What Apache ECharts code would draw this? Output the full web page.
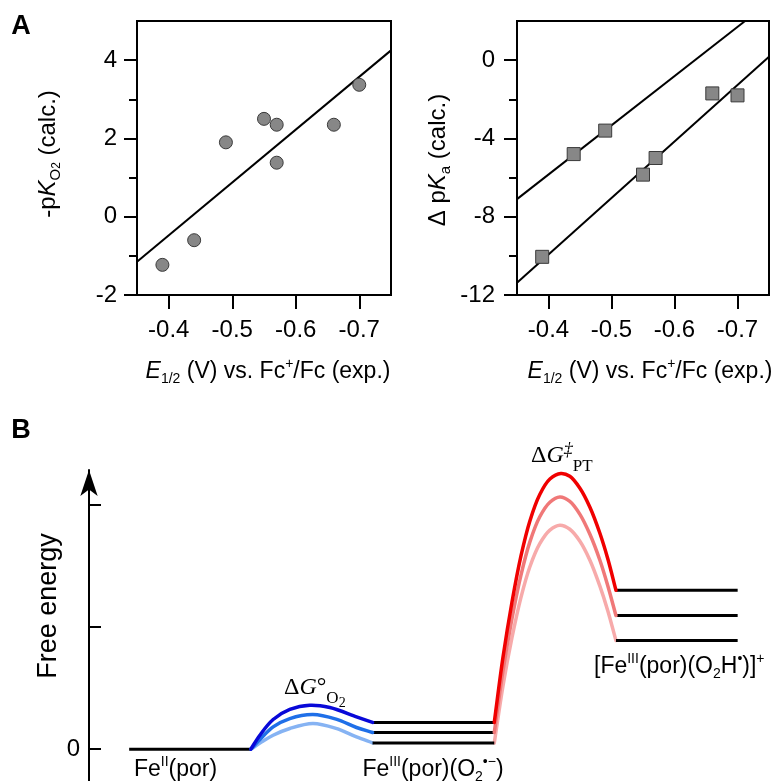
<!DOCTYPE html>
<html>
<head>
<meta charset="utf-8">
<script src="https://cdn.jsdelivr.net/npm/echarts@6/dist/echarts.min.js"></script>
<style>
  html, body { margin: 0; padding: 0; background: #fff; }
  #chart { width: 782px; height: 781px; }
</style>
</head>
<body>
<div id="chart"></div>
<script>
// ---- Panel A, left: O2 binding constant vs. Fe(III/II) potential ----
const e12Binding = [-0.39, -0.44, -0.49, -0.55, -0.57, -0.57, -0.66, -0.70];
const negPKO2    = [-1.23, -0.60, 1.90, 2.50, 2.35, 1.38, 2.35, 3.37];
const bindingFit = [[-0.35, -1.15], [-0.75, 4.25]];

// ---- Panel A, right: pKa difference vs. Fe(III/II) potential ----
const e12Acid      = [-0.39, -0.44, -0.49, -0.55, -0.57, -0.66, -0.70];
const deltaPKa     = [-10.05, -4.80, -3.60, -5.85, -5.00, -1.70, -1.80];
const acidFitUpper = [[-0.35, -7.10], [-0.712, 2.0]];
const acidFitLower = [[-0.35, -11.37], [-0.75, 0.17]];

// tick values
const e12Ticks  = [-0.4, -0.5, -0.6, -0.7];
const pKO2Ticks = [-2, 0, 2, 4];
const pKO2Minor = [-1, 1, 3];
const pKaTicks  = [-12, -8, -4, 0];
const pKaMinor  = [-10, -6, -2];

// ---- Panel B: free-energy profile (x = reaction stage, y = free energy) ----
const energyTicks  = [0, 1, 2];
const energyLabels = [0];
const levelFe2      = [[0, 0], [1, 0]];
const superoxoLevels = [0.218, 0.136, 0.051];      // stage 2 -> 3
const hydroperoxylLevels = [1.298, 1.091, 0.887];  // stage 4 -> 5

// O2 binding humps (stage 1 -> 2), darkest first
const bindingCurves = [
  [[1.0, 0], [1.074, 0.114], [1.183, 0.242], [1.320, 0.324], [1.484, 0.359], [1.649, 0.340], [1.868, 0.264], [2.0, 0.218]],
  [[1.0, 0], [1.080, 0.085], [1.183, 0.182], [1.320, 0.250], [1.510, 0.283], [1.700, 0.245], [1.868, 0.177], [2.0, 0.136]],
  [[1.0, 0], [1.090, 0.060], [1.183, 0.114], [1.320, 0.169], [1.510, 0.210], [1.700, 0.170], [1.868, 0.100], [2.0, 0.051]]
];
// proton-transfer barriers (stage 3 -> 4), darkest first
const ptCurves = [
  [[3.0, 0.218], [3.071, 0.746], [3.145, 1.198], [3.219, 1.576], [3.292, 1.862], [3.374, 2.080], [3.457, 2.206],
   [3.547, 2.252], [3.621, 2.229], [3.704, 2.131], [3.786, 1.976], [3.868, 1.763], [3.934, 1.551], [4.0, 1.298]],
  [[3.0, 0.136], [3.071, 0.636], [3.145, 1.064], [3.219, 1.420], [3.292, 1.691], [3.374, 1.898], [3.457, 2.017],
   [3.539, 2.060], [3.621, 2.024], [3.704, 1.918], [3.786, 1.755], [3.868, 1.543], [3.934, 1.331], [4.0, 1.091]],
  [[3.0, 0.051], [3.071, 0.513], [3.145, 0.908], [3.219, 1.238], [3.292, 1.488], [3.374, 1.678], [3.457, 1.789],
   [3.539, 1.829], [3.621, 1.796], [3.704, 1.698], [3.786, 1.543], [3.868, 1.331], [3.934, 1.127], [4.0, 0.887]]
];
const bindingColors = ['#0808d8', '#1f6fe8', '#86b3f3'];
const ptColors      = ['#f00000', '#f07878', '#f7aaaa'];

const SANS = '"Liberation Sans", Arial, Helvetica, sans-serif';
const SERIF = '"Liberation Serif", "Times New Roman", serif';
const BLACK = '#000';
const TICK_FONT = 24;

const chart = echarts.init(document.getElementById('chart'), null, { renderer: 'canvas' });

function eAxis(gridIndex) {
  return {
    type: 'value', gridIndex, min: -0.75, max: -0.35, inverse: true, position: 'bottom',
    axisLine: { show: false, onZero: false }, splitLine: { show: false },
    axisTick: { show: true, length: 14, customValues: e12Ticks, lineStyle: { color: BLACK, width: 2 } },
    axisLabel: { customValues: e12Ticks, fontSize: TICK_FONT, color: BLACK, margin: 23, fontFamily: SANS,
                 formatter: v => v.toFixed(1) }
  };
}
function majorY(gridIndex, min, max, ticks, margin) {
  return {
    type: 'value', gridIndex, min, max, position: 'left',
    axisLine: { show: false, onZero: false }, splitLine: { show: false },
    axisTick: { show: true, length: 13, customValues: ticks, lineStyle: { color: BLACK, width: 2 } },
    axisLabel: { customValues: ticks, fontSize: TICK_FONT, color: BLACK, margin, fontFamily: SANS }
  };
}
function minorY(gridIndex, min, max, ticks) {
  return {
    type: 'value', gridIndex, min, max, position: 'left', offset: 0,
    axisLine: { show: false, onZero: false }, splitLine: { show: false },
    axisTick: { show: true, length: 8, customValues: ticks, lineStyle: { color: BLACK, width: 2 } },
    axisLabel: { show: false }
  };
}

// Centripetal Catmull-Rom spline through pixel points, as an SVG path string
function splinePath(pts) {
  const n = pts.length;
  let d = 'M' + pts[0][0] + ',' + pts[0][1];
  const dist = (a, b) => Math.sqrt(Math.hypot(b[0] - a[0], b[1] - a[1]));
  for (let i = 0; i < n - 1; i++) {
    const p0 = pts[Math.max(0, i - 1)], p1 = pts[i], p2 = pts[i + 1], p3 = pts[Math.min(n - 1, i + 2)];
    const d1 = dist(p0, p1), d2 = dist(p1, p2), d3 = dist(p2, p3);
    let c1, c2;
    if (d1 > 1e-6) {
      c1 = [0, 1].map(k => (d1 * d1 * p2[k] - d2 * d2 * p0[k] + (2 * d1 * d1 + 3 * d1 * d2 + d2 * d2) * p1[k]) / (3 * d1 * (d1 + d2)));
    } else {
      c1 = [0, 1].map(k => p1[k] + (p2[k] - p1[k]) / 3);
    }
    if (d3 > 1e-6) {
      c2 = [0, 1].map(k => (d3 * d3 * p1[k] - d2 * d2 * p3[k] + (2 * d3 * d3 + 3 * d3 * d2 + d2 * d2) * p2[k]) / (3 * d3 * (d3 + d2)));
    } else {
      c2 = [0, 1].map(k => p2[k] - (p2[k] - p1[k]) / 3);
    }
    d += ' C' + c1[0] + ',' + c1[1] + ' ' + c2[0] + ',' + c2[1] + ' ' + p2[0] + ',' + p2[1];
  }
  return d;
}

const series = [];
// Panel A left
series.push({ type: 'line', xAxisIndex: 0, yAxisIndex: 0, data: bindingFit, showSymbol: false,
  lineStyle: { color: BLACK, width: 2 }, silent: true, z: 3 });
series.push({ type: 'scatter', xAxisIndex: 0, yAxisIndex: 0, symbol: 'circle', symbolSize: 13,
  data: e12Binding.map((x, i) => [x, negPKO2[i]]),
  itemStyle: { color: '#878787', borderColor: '#3a3a3a', borderWidth: 1, opacity: 1 }, z: 4 });
// Panel A right
[acidFitUpper, acidFitLower].forEach(d => series.push({ type: 'line', xAxisIndex: 1, yAxisIndex: 2, data: d,
  showSymbol: false, lineStyle: { color: BLACK, width: 2 }, silent: true, z: 3 }));
series.push({ type: 'scatter', xAxisIndex: 1, yAxisIndex: 2, symbol: 'rect', symbolSize: 13,
  data: e12Acid.map((x, i) => [x, deltaPKa[i]]),
  itemStyle: { color: '#878787', borderColor: '#3a3a3a', borderWidth: 1, opacity: 1 }, z: 4 });

// Panel B: energy levels
function level(data) {
  return { type: 'line', xAxisIndex: 2, yAxisIndex: 4, data, showSymbol: false, clip: false,
    lineStyle: { color: BLACK, width: 3 }, silent: true, z: 3 };
}
series.push(level(levelFe2));
superoxoLevels.forEach(v => series.push(level([[2, v], [3, v]])));
hydroperoxylLevels.forEach(v => series.push(level([[4, v], [5, v]])));
// Panel B: curves through the read-off points, lightest drawn first
function curve(points, color, width, z) {
  return {
    type: 'custom', xAxisIndex: 2, yAxisIndex: 4, data: points, silent: true, z, clip: false,
    renderItem: (params, api) => {
      if (params.dataIndex !== 0) return null;
      const px = points.map(p => api.coord(p));
      return { type: 'path', shape: { pathData: splinePath(px) },
               style: { stroke: color, lineWidth: width, fill: null, lineCap: 'round' } };
    }
  };
}
for (let i = 2; i >= 0; i--) {
  series.push(curve(bindingCurves[i], bindingColors[i], 3.5, 5 - i));
  series.push(curve(ptCurves[i], ptColors[i], 3.5, 5 - i));
}

// rich-text styles
const r = (size, extra) => Object.assign({ fontSize: size, fontFamily: SANS, fill: BLACK, color: BLACK }, extra || {});
function richSans(size) {
  return {
    n:   r(size, { lineHeight: size + 6 }),
    i:   r(size, { fontStyle: 'italic', lineHeight: size + 6 }),
    sub: r(Math.round(size * 0.62), { lineHeight: Math.round(size * 0.62), verticalAlign: 'bottom' }),
    sub2:r(Math.round(size * 0.5), { lineHeight: Math.round(size * 0.5), verticalAlign: 'bottom' }),
    sup: r(Math.round(size * 0.6), { lineHeight: Math.round(size * 0.6), verticalAlign: 'top' })
  };
}
function richSerif(size) {
  const s = (sz, extra) => Object.assign({ fontSize: sz, fontFamily: SERIF, fill: BLACK, color: BLACK }, extra || {});
  return {
    n:   s(size, { lineHeight: size + 6 }),
    i:   s(size, { fontStyle: 'italic', lineHeight: size + 6 }),
    sup: s(Math.round(size * 0.75), { fontStyle: 'italic', lineHeight: Math.round(size * 0.75), verticalAlign: 'top' }),
    deg: s(size, { lineHeight: size + 6 }),
    sub: s(Math.round(size * 0.72), { lineHeight: Math.round(size * 0.72), verticalAlign: 'bottom', padding: [0, 0, -4, 0] }),
    sub2:s(Math.round(size * 0.6), { lineHeight: Math.round(size * 0.6), verticalAlign: 'bottom', padding: [0, 0, -7, 0] })
  };
}
function txt(x, y, text, rich, opts) {
  return Object.assign({
    type: 'text', x, y, silent: true, z: 10,
    style: { text, rich, align: 'center', verticalAlign: 'middle', fill: BLACK }
  }, opts || {});
}
function withAlign(el, align) { el.style.align = align; return el; }
function bold(x, y, t) {
  return { type: 'text', x, y, silent: true, z: 10,
    style: { text: t, font: 'bold 27px ' + SANS, fill: BLACK, align: 'center', verticalAlign: 'middle' } };
}

const xTitle = '{i|E}{sub|1/2}{n| (V) vs. Fc}{sup|+}{n|/Fc (exp.)}';
const graphic = [
  bold(21, 27, 'A'),
  bold(21, 431, 'B'),
  txt(268, 372, xTitle, richSans(23)),
  txt(650, 372, xTitle, richSans(23)),
  txt(48, 154, '{n|-p}{i|K}{sub|O}{sub2|2}{n| (calc.)}', richSans(24), { rotation: Math.PI / 2 }),
  txt(438, 160, '{n|Δ p}{i|K}{sub|a}{n| (calc.)}', richSans(24), { rotation: Math.PI / 2 }),
  txt(49, 606, '{n|Free energy}', richSans(27), { rotation: Math.PI / 2 }),
  withAlign(txt(134, 770, '{n|Fe}{sup|II}{n|(por)}', richSans(23)), 'left'),
  txt(433, 770, '{n|Fe}{sup|III}{n|(por)(O}{sub|2}{sup|•−}{n|)}', richSans(23)),
  withAlign(txt(594, 667, '{n|[Fe}{sup|III}{n|(por)(O}{sub|2}{n|H}{sup|•}{n|)]}{sup|+}', richSans(23)), 'left'),
  withAlign(txt(284, 688, '{n|Δ}{i|G}{deg|°}{sub|O}{sub2|2}', richSerif(24)), 'left'),
  withAlign(txt(531, 456, '{n|Δ}{i|G}{sup|‡}{sub|PT}', richSerif(24)), 'left')
];

const option = {
  animation: false,
  backgroundColor: '#fff',
  grid: [
    { left: 137, top: 21, width: 254, height: 274, show: true, borderColor: BLACK, borderWidth: 2, backgroundColor: 'transparent' },
    { left: 517, top: 21, width: 252, height: 274, show: true, borderColor: BLACK, borderWidth: 2, backgroundColor: 'transparent' },
    { left: 89, top: 470, width: 673, height: 311, show: false }
  ],
  xAxis: [
    eAxis(0),
    eAxis(1),
    { type: 'value', gridIndex: 2, min: -0.33, max: 5.2, show: false }
  ],
  yAxis: [
    majorY(0, -2, 5, pKO2Ticks, 20),
    minorY(0, -2, 5, pKO2Minor),
    majorY(1, -12, 2, pKaTicks, 22),
    minorY(1, -12, 2, pKaMinor),
    {
      type: 'value', gridIndex: 2, min: -0.26, max: 2.28, position: 'left',
      axisLine: { show: true, onZero: false, symbol: ['none', 'arrow'], symbolSize: [13, 26],
                  lineStyle: { color: BLACK, width: 2 } },
      axisTick: { show: true, inside: true, length: 12, customValues: energyTicks, lineStyle: { color: BLACK, width: 2 } },
      axisLabel: { customValues: energyLabels, fontSize: TICK_FONT, color: BLACK, margin: 9, fontFamily: SANS },
      splitLine: { show: false }
    }
  ],
  series,
  graphic
};
chart.setOption(option);
</script>
</body>
</html>
